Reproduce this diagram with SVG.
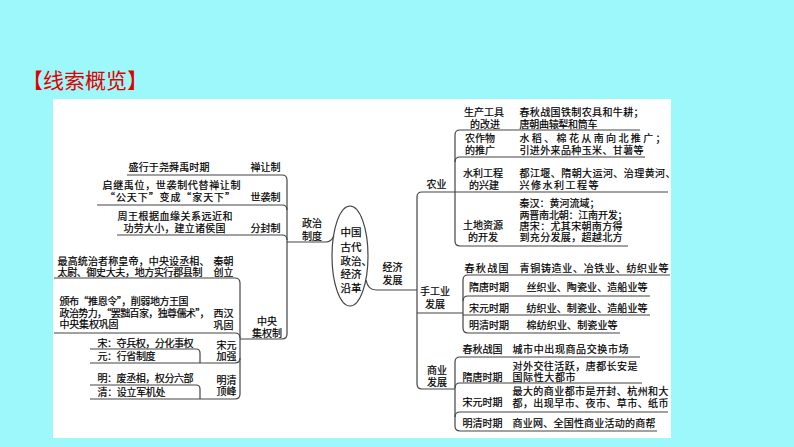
<svg xmlns="http://www.w3.org/2000/svg" width="794" height="447" viewBox="0 0 794 447">
<style>
.t{font-family:"Noto Sans CJK SC","Noto Sans",sans-serif;font-size:10px;fill:#000;stroke:#000;stroke-width:0.2}
.m{text-anchor:middle}
.e{font-size:10.5px}
.ln{fill:none;stroke:#444;stroke-width:1.2}
.title{font-family:"Noto Sans CJK SC","Noto Sans",sans-serif;font-size:21px;fill:#e00000}
</style>
<rect x="0" y="0" width="794" height="447" fill="#9cf8fa"/>
<rect x="53" y="99" width="618" height="339" fill="#ffffff"/>
<text class="title" x="22" y="88">【线索概览】</text>

<g id="connectors">
  <path class="ln" d="M127,175 H282 Q287,175 287,180 V334 Q287,339 282,339 H240"/>
  <path class="ln" d="M97,205 H282 Q287,205 287,210"/>
  <path class="ln" d="M117,235 H282 Q287,235 287,240"/>
  <path class="ln" d="M287,242 H326 Q331,242 334,236"/>
  <path class="ln" d="M54,278 H235 Q240,278 240,283 V394 Q240,399 235,399 H90"/>
  <path class="ln" d="M54,333 H235 Q240,333 240,338"/>
  <path class="ln" d="M90,349 H196 Q200,349 200,353 V363"/>
  <path class="ln" d="M90,363 H235 Q240,363 240,358"/>
  <path class="ln" d="M90,385 H196 Q200,385 200,389 V399"/>
  <path class="ln" d="M366,280 Q368,290 376,290 H417"/>
  <path class="ln" d="M668,192 H422 Q417,192 417,197 V384 Q417,389 422,389 H455"/>
  <path class="ln" d="M417,313 H463"/>
  <path class="ln" d="M640,130 H460 Q455,130 455,135 V241 Q455,246 460,246 H628"/>
  <path class="ln" d="M455,162 Q455,157 460,157 H645"/>
  <path class="ln" d="M670,275 H468 Q463,275 463,280 V328 Q463,333 468,333 H620"/>
  <path class="ln" d="M463,301 Q463,296 468,296 H650"/>
  <path class="ln" d="M463,315 H650"/>
  <path class="ln" d="M640,357 H460 Q455,357 455,362 V426 Q455,431 460,431 H657"/>
  <path class="ln" d="M455,388 Q455,383 460,383 H642"/>
  <path class="ln" d="M455,417 Q455,412 460,412 H668"/>
</g>

<g id="center">
  <ellipse class="ln" cx="350" cy="256" rx="18" ry="50"/>
  <text class="t e" x="340.5" y="236">中国</text>
  <text class="t e" x="340.5" y="251">古代</text>
  <text class="t e" x="340.5" y="265">政治、</text>
  <text class="t e" x="340.5" y="278">经济</text>
  <text class="t e" x="340.5" y="292">沿革</text>
</g>

<g id="politics">
  <text class="t m" x="312" y="227">政治</text>
  <text class="t m" x="312" y="240">制度</text>
</g>

<g id="shanrang">
  <text class="t" x="128.5" y="171" textLength="81">盛行于尧舜禹时期</text>
  <text class="t" x="250.5" y="171" textLength="30">禅让制</text>
</g>
<g id="shixi">
  <text class="t" x="102.5" y="189" textLength="138">启继禹位，世袭制代替禅让制</text>
  <text class="t" x="105" y="201" textLength="130">“公天下”变成“家天下”</text>
  <text class="t" x="250.5" y="201" textLength="30">世袭制</text>
</g>
<g id="fenfeng">
  <text class="t" x="117.5" y="220" textLength="115">周王根据血缘关系远近和</text>
  <text class="t" x="123.5" y="232" textLength="102">功劳大小，建立诸侯国</text>
  <text class="t" x="250.5" y="232" textLength="30">分封制</text>
</g>
<g id="zhongyang">
  <text class="t m" x="267" y="325">中央</text>
  <text class="t m" x="267" y="337">集权制</text>
</g>
<g id="qin">
  <text class="t" x="57.5" y="265" textLength="152">最高统治者称皇帝，中央设丞相、</text>
  <text class="t" x="57.5" y="276" textLength="145">太尉、御史大夫，地方实行郡县制</text>
  <text class="t" x="213.5" y="265">秦朝</text>
  <text class="t" x="213.5" y="276">创立</text>
</g>
<g id="xihan">
  <text class="t" x="59.5" y="305" textLength="129">颁布“推恩令”，削弱地方王国</text>
  <text class="t" x="59.5" y="317" textLength="150">政治势力，“罢黜百家，独尊儒术”，</text>
  <text class="t" x="59.5" y="328" textLength="59">中央集权巩固</text>
  <text class="t" x="213.5" y="317">西汉</text>
  <text class="t" x="213.5" y="329">巩固</text>
</g>
<g id="songyuan">
  <text class="t" x="97.5" y="347" textLength="96">宋：夺兵权，分化事权</text>
  <text class="t" x="97.5" y="360" textLength="58">元：行省制度</text>
  <text class="t" x="216.5" y="349">宋元</text>
  <text class="t" x="216.5" y="360">加强</text>
</g>
<g id="mingqing">
  <text class="t" x="97.5" y="382" textLength="96">明：废丞相，权分六部</text>
  <text class="t" x="97.5" y="396" textLength="68">清：设立军机处</text>
  <text class="t" x="216.5" y="384">明清</text>
  <text class="t" x="216.5" y="395">顶峰</text>
</g>

<g id="economy">
  <text class="t" x="382.5" y="271">经济</text>
  <text class="t" x="382.5" y="284">发展</text>
</g>

<g id="agriculture">
  <text class="t" x="426.5" y="188">农业</text>
</g>
<g id="tools">
  <text class="t m" x="484" y="116">生产工具</text>
  <text class="t m" x="485" y="128">的改进</text>
  <text class="t" x="519.5" y="116" textLength="124">春秋战国铁制农具和牛耕；</text>
  <text class="t" x="519.5" y="128" textLength="78">唐朝曲辕犁和筒车</text>
</g>
<g id="crops">
  <text class="t m" x="480" y="142">农作物</text>
  <text class="t m" x="480" y="154">的推广</text>
  <text class="t" x="519.5" y="142" textLength="146">水稻、棉花从南向北推广；</text>
  <text class="t" x="519.5" y="154" textLength="124">引进外来品种玉米、甘薯等</text>
</g>
<g id="water">
  <text class="t m" x="483" y="177">水利工程</text>
  <text class="t m" x="484" y="189">的兴建</text>
  <text class="t" x="519.5" y="177" textLength="156">都江堰、隋朝大运河、治理黄河、</text>
  <text class="t" x="519.5" y="189" textLength="79">兴修水利工程等</text>
</g>
<g id="land">
  <text class="t m" x="483" y="229">土地资源</text>
  <text class="t m" x="483" y="241">的开发</text>
  <text class="t" x="519.5" y="207" textLength="80">秦汉：黄河流域；</text>
  <text class="t" x="519.5" y="219" textLength="108">两晋南北朝：江南开发；</text>
  <text class="t" x="519.5" y="230" textLength="103">唐宋：尤其宋朝南方得</text>
  <text class="t" x="519.5" y="241" textLength="103">到充分发展，超越北方</text>
</g>

<g id="handicraft">
  <text class="t m" x="435" y="295">手工业</text>
  <text class="t m" x="435" y="308">发展</text>
</g>
<g id="hc-chunqiu">
  <text class="t" x="464.5" y="272" textLength="44">春秋战国</text>
  <text class="t" x="519.5" y="272" textLength="149">青铜铸造业、冶铁业、纺织业等</text>
</g>
<g id="hc-suitang">
  <text class="t" x="469" y="291" textLength="40">隋唐时期</text>
  <text class="t" x="526.5" y="291" textLength="121">丝织业、陶瓷业、造船业等</text>
</g>
<g id="hc-songyuan">
  <text class="t" x="469" y="312" textLength="40">宋元时期</text>
  <text class="t" x="526.5" y="312" textLength="121">纺织业、制瓷业、造船业等</text>
</g>
<g id="hc-mingqing">
  <text class="t" x="469" y="329" textLength="40">明清时期</text>
  <text class="t" x="526.5" y="329" textLength="91">棉纺织业、制瓷业等</text>
</g>

<g id="commerce">
  <text class="t m" x="437" y="374">商业</text>
  <text class="t m" x="437" y="386">发展</text>
</g>
<g id="cm-chunqiu">
  <text class="t" x="462.5" y="353" textLength="40">春秋战国</text>
  <text class="t" x="512.5" y="353" textLength="116">城市中出现商品交换市场</text>
</g>
<g id="cm-suitang">
  <text class="t" x="462.5" y="381" textLength="40">隋唐时期</text>
  <text class="t" x="512.5" y="370" textLength="125">对外交往活跃，唐都长安是</text>
  <text class="t" x="512.5" y="381" textLength="63">国际性大都市</text>
</g>
<g id="cm-songyuan">
  <text class="t" x="462.5" y="406" textLength="40">宋元时期</text>
  <text class="t" x="512.5" y="395" textLength="156">最大的商业都市是开封、杭州和大</text>
  <text class="t" x="512.5" y="407" textLength="156">都，出现早市、夜市、草市、纸币</text>
</g>
<g id="cm-mingqing">
  <text class="t" x="462.5" y="427" textLength="40">明清时期</text>
  <text class="t" x="512.5" y="427" textLength="143">商业网、全国性商业活动的商帮</text>
</g>
</svg>
